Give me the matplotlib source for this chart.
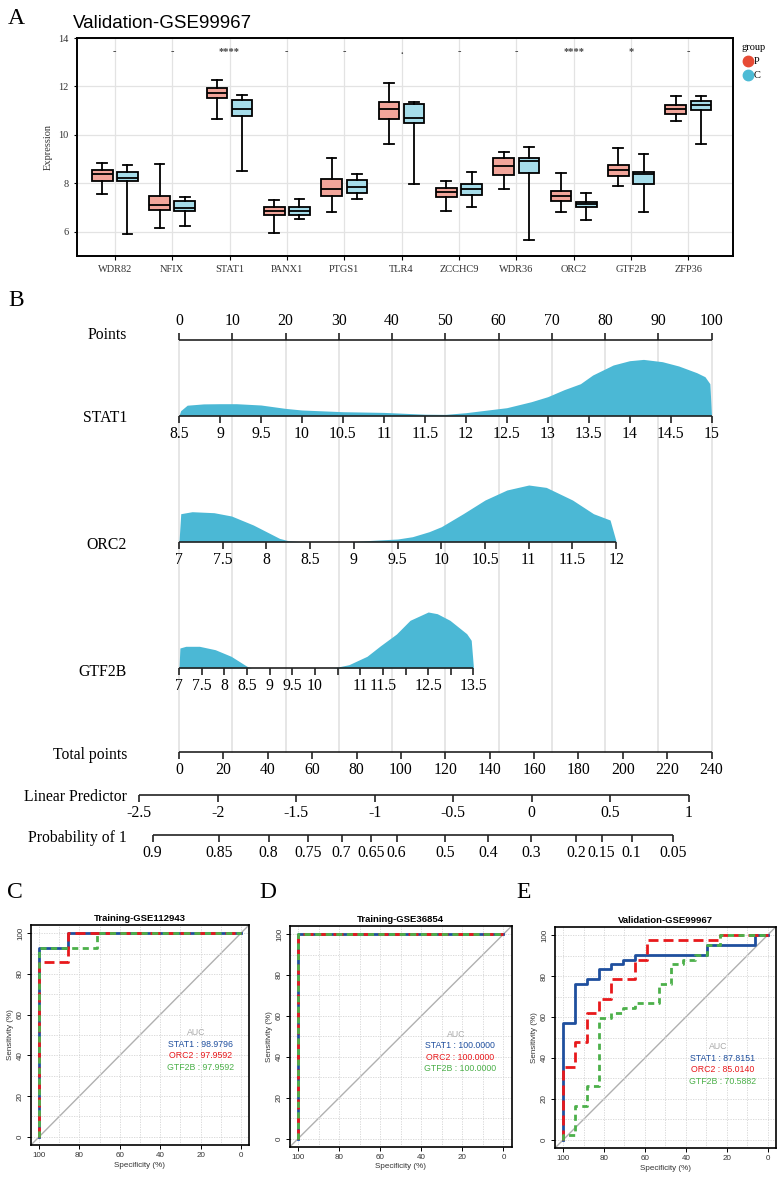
import numpy as np
import matplotlib
matplotlib.use("Agg")
import matplotlib.pyplot as plt
from matplotlib.lines import Line2D

SERIF = ["Liberation Serif", "DejaVu Serif"]
SANS = ["Liberation Sans", "DejaVu Sans"]
plt.rcParams["font.family"] = SERIF

# ---------------- panel A : boxplots ----------------
genes = ["WDR82", "NFIX", "STAT1", "PANX1", "PTGS1", "TLR4",
         "ZCCHC9", "WDR36", "ORC2", "GTF2B", "ZFP36"]
sig_marks = ["-", "-", "****", "-", "-", ".", "-", "-", "****", "*", "-"]

# group P: whisker low, q1, median, q3, whisker high
p_lo = [7.55, 6.14, 10.65, 5.97, 6.80, 9.61, 6.86, 7.78, 6.80, 7.88, 10.57]
p_q1 = [8.10, 6.88, 11.54, 6.68, 7.48, 10.64, 7.42, 8.34, 7.27, 8.30, 10.86]
p_med = [8.38, 7.10, 11.72, 6.86, 7.77, 11.08, 7.63, 8.71, 7.48, 8.56, 11.05]
p_q3 = [8.54, 7.48, 11.95, 7.02, 8.19, 11.35, 7.81, 9.06, 7.67, 8.77, 11.24]
p_hi = [8.82, 8.79, 12.25, 7.30, 9.06, 12.16, 8.11, 9.28, 8.44, 9.47, 11.60]
# group C
c_lo = [5.90, 6.23, 8.51, 6.53, 7.35, 7.97, 7.04, 5.65, 6.49, 6.80, 9.64]
c_q1 = [8.09, 6.85, 10.78, 6.68, 7.62, 10.49, 7.52, 8.43, 7.02, 7.96, 11.01]
c_med = [8.24, 6.99, 11.07, 6.87, 7.85, 10.71, 7.78, 8.93, 7.13, 8.37, 11.24]
c_q3 = [8.45, 7.26, 11.42, 7.02, 8.12, 11.26, 7.96, 9.06, 7.24, 8.48, 11.40]
c_hi = [8.76, 7.44, 11.64, 7.37, 8.40, 11.34, 8.45, 9.51, 7.61, 9.20, 11.62]

# ---------------- panel B : nomogram ----------------
points_ticks = list(range(0, 101, 10))

stat1_ticks = [8.5, 9, 9.5, 10, 10.5, 11, 11.5, 12, 12.5, 13, 13.5, 14, 14.5, 15]
stat1_labels = ["8.5", "9", "9.5", "10", "10.5", "11", "11.5", "12", "12.5",
                "13", "13.5", "14", "14.5", "15"]
stat1_max_pts = 100.0
stat1_dens_x = [8.5, 8.52, 8.6, 8.8, 9.0, 9.2, 9.5, 9.8, 10.0, 10.5, 11.0, 11.5,
                11.75, 12.0, 12.5, 12.8, 13.0, 13.2, 13.4, 13.55, 13.8, 14.0,
                14.17, 14.4, 14.6, 14.82, 14.92, 14.98, 15.0]
stat1_dens_h = [0, 5, 10.5, 11.8, 12, 12, 10.7, 7.3, 5.7, 4, 3.3, 1.5, 1.3, 3,
                8, 14, 19, 26, 32, 40.7, 50.7, 55, 56.3, 54, 49.7, 43, 39, 32, 0]

orc2_ticks = [7, 7.5, 8, 8.5, 9, 9.5, 10, 10.5, 11, 11.5, 12]
orc2_labels = ["7", "7.5", "8", "8.5", "9", "9.5", "10", "10.5", "11", "11.5", "12"]
orc2_max_pts = 82.1
orc2_dens_x = [7.0, 7.02, 7.15, 7.4, 7.6, 7.85, 8.0, 8.15, 8.25, 8.4, 9.0, 9.2,
               9.5, 9.67, 9.86, 10.0, 10.25, 10.5, 10.75, 11.0, 11.2, 11.5,
               11.74, 11.93, 12.0]
orc2_dens_h = [0, 28, 30, 29, 25.7, 16.7, 10, 3.3, 1, 0, 0, 1.3, 2.7, 5, 10, 15,
               28, 41.7, 51.7, 56.7, 54.3, 41.7, 28, 21.7, 0]

gtf2b_ticks = [7, 7.5, 8, 8.5, 9, 9.5, 10, 10.5, 11, 11.5, 12, 12.5, 13, 13.5]
gtf2b_labels = ["7", "7.5", "8", "8.5", "9", "9.5", "10", "", "11", "11.5",
                "", "12.5", "", "13.5"]
gtf2b_max_pts = 55.3
gtf2b_dens_x = [7.0, 7.02, 7.15, 7.45, 7.8, 8.15, 8.5, 8.6, 10.4, 10.75, 11.15,
                11.44, 11.8, 12.1, 12.5, 12.7, 12.98, 13.35, 13.45, 13.5]
gtf2b_dens_h = [0, 20, 21.7, 21.7, 18.3, 11.7, 1.7, 0, 0, 3.3, 11.7, 22, 34,
                47.7, 56, 54.3, 47.7, 34.3, 27.7, 0]

total_ticks = list(range(0, 241, 20))
total_max = 240

lp_ticks = [-2.5, -2, -1.5, -1, -0.5, 0, 0.5, 1]
lp_labels = ["-2.5", "-2", "-1.5", "-1", "-0.5", "0", "0.5", "1"]
lp_at_zero = -2.246      # linear predictor at 0 total points
lp_per_point = 0.01413   # change per total point

prob_labels = ["0.9", "0.85", "0.8", "0.75", "0.7", "0.65", "0.6", "0.5",
               "0.4", "0.3", "0.2", "0.15", "0.1", "0.05"]
prob_total_pts = [-11.9, 18.0, 40.4, 58.2, 73.3, 86.5, 98.1, 119.9, 139.3,
                  158.6, 178.9, 190.5, 204.0, 222.5]

# ---------------- panels C-E : ROC ----------------
roc_genes = ["STAT1", "ORC2", "GTF2B"]
roc_colors = ["#1f4f9e", "#e8191c", "#4cb04a"]

c_spec = [[100, 100, 85.7, 0], [100, 100, 85.7, 0], [100, 100, 71.4, 0]]
c_sens = [[0, 92.9, 100, 100], [0, 85.7, 100, 100], [0, 92.9, 100, 100]]
c_auc = ["98.9796", "97.9592", "97.9592"]

d_spec = [[100, 100, 0], [100, 100, 0], [100, 100, 0]]
d_sens = [[0, 100, 100], [0, 100, 100], [0, 100, 100]]
d_auc = ["100.0000", "100.0000", "100.0000"]

e_spec = [[100, 100, 94.1, 88.2, 82.4, 76.5, 70.6, 64.7, 29.4, 5.9, 0],
          [100, 100, 94.1, 88.2, 82.4, 76.5, 64.7, 58.8, 23.5, 0],
          [100, 100, 94.1, 88.2, 82.4, 76.5, 70.6, 64.7, 52.9, 47.1, 41.2,
           35.3, 29.4, 23.5, 0]]
e_sens = [[0, 57.1, 76.2, 78.6, 83.3, 85.7, 88.1, 90.5, 95.2, 100, 100],
          [0, 35.7, 47.6, 61.9, 69.0, 78.6, 88.1, 97.6, 100, 100],
          [0, 2.4, 16.7, 26.2, 59.5, 61.9, 64.3, 66.7, 76.2, 85.7, 88.1,
           90.5, 95.2, 100, 100]]
e_auc = ["87.8151", "85.0140", "70.5882"]

W, H = 777, 1180
fig = plt.figure(figsize=(W / 100, H / 100), dpi=100)


def fbox(left, top, right, bottom):
    return [left / W, 1 - bottom / H, (right - left) / W, (bottom - top) / H]


# ======== A ========
axA = fig.add_axes(fbox(77, 38, 733, 256))
cats = np.arange(1, len(genes) + 1)
p_red, c_blue = "#E64B35", "#4DBBD5"
p_fill, c_fill = "#F2A59A", "#A6DDEA"


def make_stats(lo, q1, med, q3, hi):
    return [dict(whislo=a, q1=b, med=c, q3=d, whishi=e, fliers=[])
            for a, b, c, d, e in zip(lo, q1, med, q3, hi)]


for stats, off, fc in [(make_stats(p_lo, p_q1, p_med, p_q3, p_hi), -0.22, p_fill),
                       (make_stats(c_lo, c_q1, c_med, c_q3, c_hi), 0.22, c_fill)]:
    axA.bxp(stats, positions=cats + off, widths=0.36, capwidths=0.17,
            patch_artist=True, showfliers=False, manage_ticks=False,
            boxprops=dict(facecolor=fc, edgecolor="black", linewidth=1.3),
            medianprops=dict(color="black", linewidth=1.3),
            whiskerprops=dict(color="black", linewidth=1.3),
            capprops=dict(color="black", linewidth=1.3))

for i, m in enumerate(sig_marks):
    axA.text(cats[i], 13.45, m, ha="center", va="center", fontsize=7.5,
             color="#444444", fontweight="bold")

axA.set_xlim(0.34, 11.78)
axA.set_ylim(5, 14)
axA.set_xticks(cats)
axA.set_xticklabels(genes, fontsize=7.5, color="#333333")
axA.set_yticks([6, 8, 10, 12, 14])
axA.tick_params(axis="y", labelsize=7.5, labelcolor="#333333", length=2.5, width=0.8)
axA.tick_params(axis="x", length=3, width=0.8)
axA.set_ylabel("Expression", fontsize=7.5, color="#333333", labelpad=4)
axA.set_axisbelow(True)
axA.grid(color="#e3e3e3", linewidth=0.9)
for s in axA.spines.values():
    s.set_linewidth(1.4)

handles = [Line2D([], [], marker="o", linestyle="", markersize=7.5, color=p_red),
           Line2D([], [], marker="o", linestyle="", markersize=7.5, color=c_blue)]
axA.legend(handles, ["P", "C"], title="group", loc="upper left",
           bbox_to_anchor=(1.005, 1.0), frameon=False, fontsize=7.5,
           title_fontsize=7.5, handletextpad=0.0, borderaxespad=0.1,
           labelspacing=0.45, handlelength=1.2, alignment="left")

fig.text(73 / W, 1 - 23 / H, "Validation-GSE99967", family=SANS, fontsize=13.5,
         va="center", ha="left")
fig.text(8 / W, 1 - 18 / H, "A", fontsize=17, va="center", ha="left")

# ======== B ========
PX = 5.325  # pixels per point on the nomogram
axB = fig.add_axes(fbox(0, 290, 777, 850))
axB.set_xlim(-179 / PX, (W - 179) / PX)
axB.set_ylim(850, 290)
axB.axis("off")

row_points, row_stat1, row_orc2, row_gtf2b = 340, 415.7, 541.7, 668
row_total, row_lp, row_prob = 752, 795, 835
label_x = (127 - 179) / PX
dens_color = "#4BB8D5"
fs_b = 11.3
tick_len = 7

for p in points_ticks:
    axB.plot([p, p], [row_points, row_total], color="#e4e4e4", lw=1.3, zorder=0)


def draw_scale(y, pos, labels, up=False):
    pos = np.asarray(pos, dtype=float)
    axB.plot([pos.min(), pos.max()], [y, y], color="#222222", lw=1.2,
             solid_capstyle="butt", zorder=3)
    if up:
        axB.vlines(pos, y - tick_len, y, color="#222222", lw=1.2, zorder=3)
        for p, lab in zip(pos, labels):
            axB.text(p, y - 11, lab, ha="center", va="bottom", fontsize=fs_b)
    else:
        axB.vlines(pos, y, y + tick_len, color="#222222", lw=1.2, zorder=3)
        for p, lab in zip(pos, labels):
            axB.text(p, y + 10, lab, ha="center", va="top", fontsize=fs_b)


def var_pts(v, lo, hi, max_pts):
    return (np.asarray(v, dtype=float) - lo) / (hi - lo) * max_pts


draw_scale(row_points, points_ticks, [str(p) for p in points_ticks], up=True)

for y, ticks, labs, dx, dh, mp in [
        (row_stat1, stat1_ticks, stat1_labels, stat1_dens_x, stat1_dens_h, stat1_max_pts),
        (row_orc2, orc2_ticks, orc2_labels, orc2_dens_x, orc2_dens_h, orc2_max_pts),
        (row_gtf2b, gtf2b_ticks, gtf2b_labels, gtf2b_dens_x, gtf2b_dens_h, gtf2b_max_pts)]:
    lo, hi = ticks[0], ticks[-1]
    xs = var_pts(dx, lo, hi, mp)
    axB.fill_between(xs, y - np.asarray(dh), y, color=dens_color, lw=0, zorder=2)
    draw_scale(y, var_pts(ticks, lo, hi, mp), labs)

draw_scale(row_total, np.asarray(total_ticks) / total_max * 100,
           [str(t) for t in total_ticks])
lp_pos = (np.asarray(lp_ticks) - lp_at_zero) / lp_per_point / total_max * 100
draw_scale(row_lp, lp_pos, lp_labels)
draw_scale(row_prob, np.asarray(prob_total_pts) / total_max * 100, prob_labels)

for y, lab in [(row_points - 5, "Points"), (row_stat1 + 2, "STAT1"),
               (row_orc2 + 3, "ORC2"), (row_gtf2b + 4, "GTF2B"),
               (row_total + 3, "Total points"), (row_lp + 2, "Linear Predictor"),
               (row_prob + 3, "Probability of 1")]:
    axB.text(label_x, y, lab, ha="right", va="center", fontsize=fs_b)

fig.text(8 / W, 1 - 300 / H, "B", fontsize=17, va="center", ha="left")

# ======== C, D, E ========
roc_axes = [fig.add_axes(fbox(31, 925, 249, 1145)),
            fig.add_axes(fbox(290, 926, 511.7, 1146.7)),
            fig.add_axes(fbox(555, 927, 775.7, 1148))]
roc_titles = ["Training-GSE112943", "Training-GSE36854", "Validation-GSE99967"]
roc_specs = [c_spec, d_spec, e_spec]
roc_senss = [c_sens, d_sens, e_sens]
roc_aucs = [c_auc, d_auc, e_auc]
auc_pos = [(20, 51), (21, 51), (22, 45.5)]
dashes = [None, (3.6, 1.8), (2.2, 1.6)]

for ax, title, specs, senss, aucs, (ax_x, ax_y) in zip(
        roc_axes, roc_titles, roc_specs, roc_senss, roc_aucs, auc_pos):
    ax.set_xlim(104, -4)
    ax.set_ylim(-4, 104)
    ax.set_xticks(range(100, -1, -20))
    ax.set_yticks(range(0, 101, 20))
    ax.set_xticks(range(0, 101, 10), minor=True)
    ax.set_yticks(range(0, 101, 10), minor=True)
    ax.grid(which="both", color="#d4d4d4", linestyle=(0, (1.5, 1.5)), linewidth=0.6)
    ax.tick_params(which="minor", length=0)
    ax.tick_params(which="major", length=3, width=0.7, labelsize=5.8,
                   labelcolor="#333333", pad=2)
    for lab in ax.get_xticklabels() + ax.get_yticklabels():
        lab.set_family(SANS)
    for lab in ax.get_yticklabels():
        lab.set_rotation(90)
        lab.set_va("center")
    ax.axline((100, 0), (0, 100), color="#b0b0b0", lw=1.0, zorder=1)
    for k in range(3):
        ln, = ax.plot(specs[k], senss[k], drawstyle="steps-post",
                      color=roc_colors[k], lw=2.0, zorder=3 + k)
        if dashes[k] is not None:
            ln.set_dashes(dashes[k])
    ax.set_title(title, fontsize=6.8, fontweight="bold", family=SANS, pad=3)
    ax.set_xlabel("Specificity (%)", fontsize=5.8, family=SANS, color="#333333", labelpad=2)
    ax.set_ylabel("Sensitivity (%)", fontsize=5.8, family=SANS, color="#333333", labelpad=2)
    ax.text(ax_x + 2, ax_y, "AUC", color="#aaaaaa", ha="center", va="center",
            fontsize=6.3, family=SANS)
    for k in range(3):
        ax.text(ax_x, ax_y - 5.6 * (k + 1), f"{roc_genes[k]} : {aucs[k]}",
                color=roc_colors[k], ha="center", va="center", fontsize=6.3,
                family=SANS)
    for s in ax.spines.values():
        s.set_linewidth(1.2)

for x, lab in [(15, "C"), (268, "D"), (524, "E")]:
    fig.text(x / W, 1 - 892 / H, lab, fontsize=17, va="center", ha="center")

fig.savefig("out.png", dpi=100)
